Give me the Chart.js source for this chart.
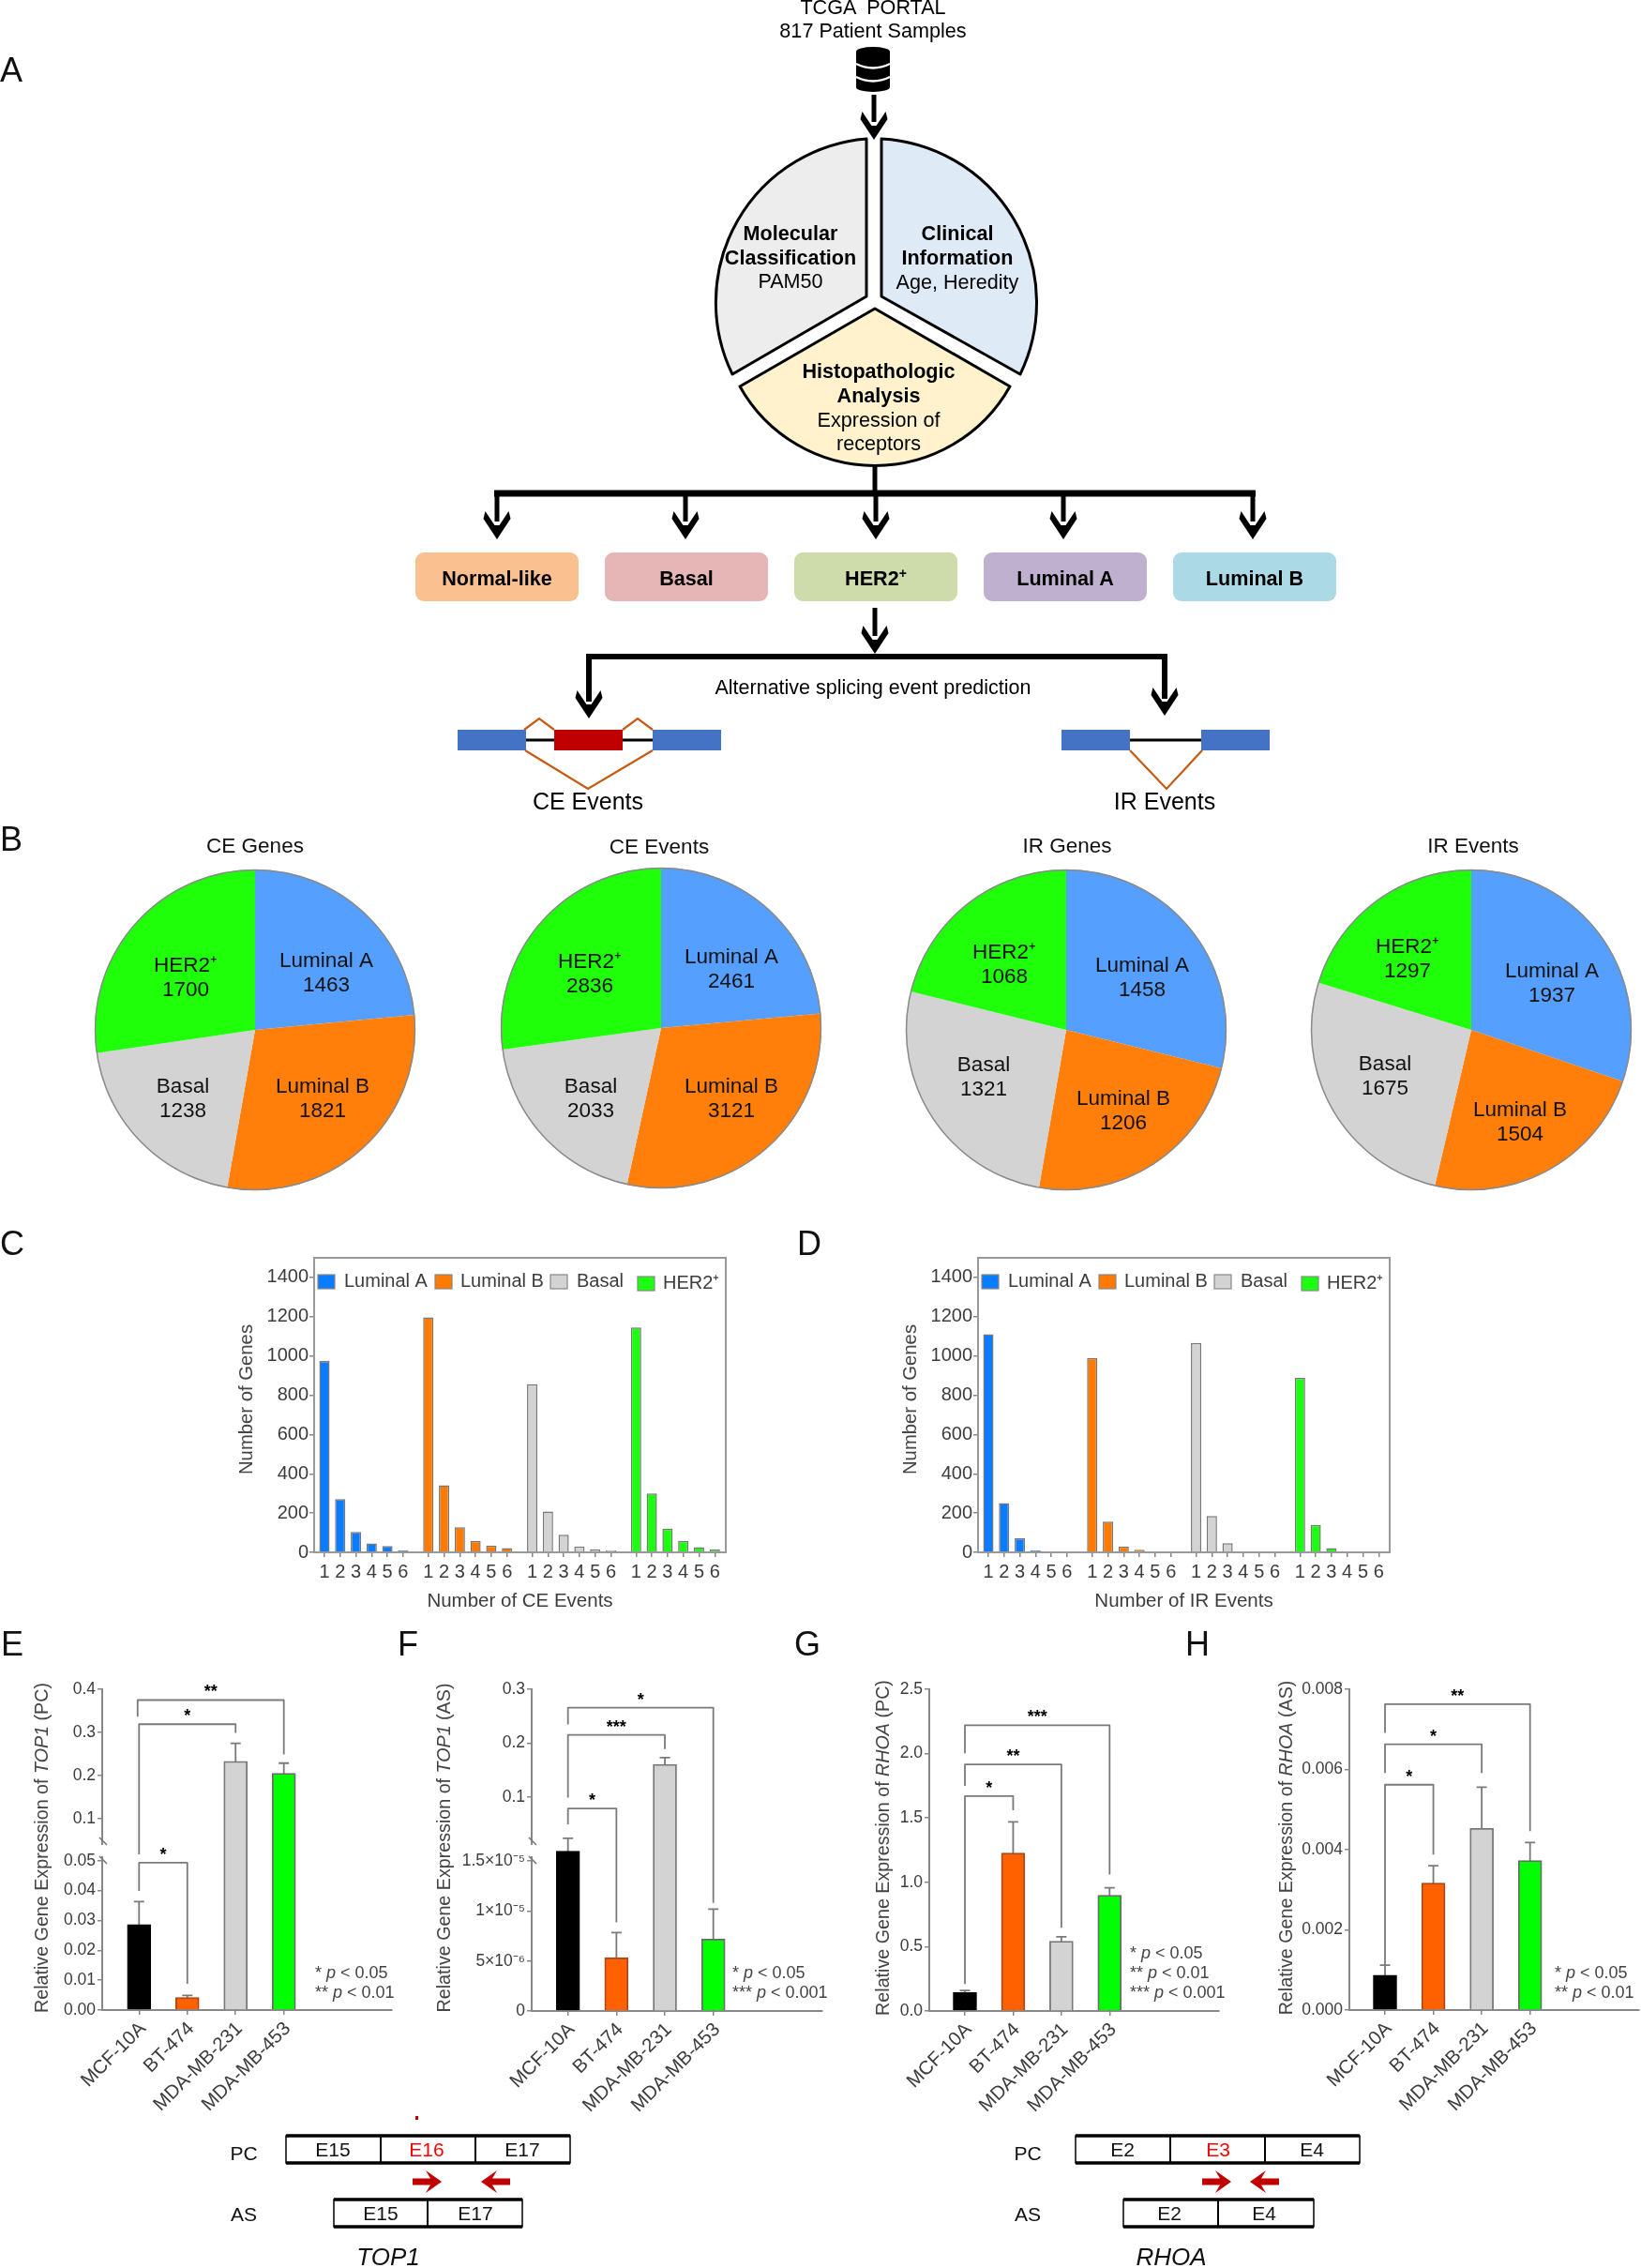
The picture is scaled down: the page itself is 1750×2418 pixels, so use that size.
<!DOCTYPE html>
<html>
<head>
<meta charset="utf-8">
<title>Alternative splicing figure</title>
<script src="https://cdn.jsdelivr.net/npm/chart.js@4/dist/chart.umd.js"></script>
<style>
  html, body { margin: 0; background: #fff; }
  #page { position: relative; width: 1750px; height: 2418px; overflow: hidden; }
  #page canvas { position: absolute; }
  #page svg { position: absolute; left: 0; top: 0; pointer-events: none; font-family: "Liberation Sans", Arial, sans-serif; }
  .letter { font-size: 36px; fill: #111; }
  .flow { font-size: 21.6px; fill: #000; text-anchor: middle; dominant-baseline: middle; transform: translateY(1.5px); }
  .flow.b { font-weight: bold; }
  .big { font-size: 25px; }
  .pie-title { font-size: 22.5px; fill: #111; text-anchor: middle; dominant-baseline: middle; transform: translateY(1.5px); }
  .ytitle { font-size: 19.7px; fill: #444; text-anchor: middle; }
  .ytitle.count { font-size: 20.3px; }
  .pval { font-size: 18px; fill: #444; dominant-baseline: middle; }
  .exon { font-size: 21px; fill: #111; text-anchor: middle; dominant-baseline: middle; }
  .exon.red { fill: #f00; }
  .gene { font-size: 26px; font-style: italic; fill: #111; text-anchor: middle; dominant-baseline: middle; }
</style>
</head>
<body>
<div id="page">
<svg width="1750" height="2418" viewBox="0 0 1750 2418">
  <defs>
    <path id="head" d="M0 0 L-14.5 -22 L-12.5 -30 L-2.5 -15 L2.5 -15 L12.5 -30 L14.5 -22 Z" fill="#000"/>
    <path id="primer" d="M31 0 L14 -12 L19 -3.5 L0 -3.5 L0 3.5 L19 3.5 L14 12 Z" fill="#c00000"/>
  </defs>

  <!-- panel letters -->
  <text class="letter" x="0" y="87">A</text>
  <text class="letter" x="0" y="907">B</text>
  <text class="letter" x="0" y="1338">C</text>
  <text class="letter" x="850" y="1338">D</text>
  <text class="letter" x="1" y="1765">E</text>
  <text class="letter" x="424" y="1765">F</text>
  <text class="letter" x="847" y="1765">G</text>
  <text class="letter" x="1264" y="1765">H</text>

  <!-- panel A: top of the flow -->
  <text class="flow" x="931" y="8" xml:space="preserve">TCGA  PORTAL</text>
  <text class="flow" x="931" y="33">817 Patient Samples</text>
  <rect x="913" y="55" width="36" height="38" fill="#000"/>
  <ellipse cx="931" cy="55" rx="18" ry="5" fill="#000"/>
  <ellipse cx="931" cy="93" rx="18" ry="5" fill="#000"/>
  <path d="M913 68 Q931 77 949 68 M913 82 Q931 91 949 82" stroke="#fff" stroke-width="2.5" fill="none"/>
  <path d="M932 101 V130" stroke="#000" stroke-width="5"/>
  <use href="#head" x="932" y="149"/>

  <g stroke="#000" stroke-width="3" stroke-linejoin="round">
    <path d="M924 148 L924 316 L781 399 A175 175 0 0 1 924 148 Z" fill="#ededed"/>
    <path d="M940 148 L940 316 L1088 399 A175 175 0 0 0 940 148 Z" fill="#deeaf6"/>
    <path d="M933 329 L1077 412 A165 165 0 0 1 789 412 Z" fill="#fff2cc"/>
  </g>
  <text class="flow b" x="843" y="249">Molecular</text>
  <text class="flow b" x="843" y="275">Classification</text>
  <text class="flow" x="843" y="300">PAM50</text>
  <text class="flow b" x="1021" y="249">Clinical</text>
  <text class="flow b" x="1021" y="275">Information</text>
  <text class="flow" x="1021" y="301">Age, Heredity</text>
  <text class="flow b" x="937" y="396">Histopathologic</text>
  <text class="flow b" x="937" y="422">Analysis</text>
  <text class="flow" x="937" y="448">Expression of</text>
  <text class="flow" x="937" y="473">receptors</text>

  <g stroke="#000" fill="none">
    <path d="M933 497 V526" stroke-width="5"/>
    <path d="M527 526 H1339" stroke-width="7"/>
    <path d="M530 526 V556 M731 526 V556 M934 526 V556 M1134 526 V556 M1336 526 V556" stroke-width="5"/>
    <path d="M933 648 V678" stroke-width="5"/>
    <path d="M628 748 V700 H1242 V745" stroke-width="6" stroke-linejoin="miter"/>
  </g>
  <use href="#head" x="530" y="575"/>
  <use href="#head" x="731" y="575"/>
  <use href="#head" x="934" y="575"/>
  <use href="#head" x="1134" y="575"/>
  <use href="#head" x="1336" y="575"/>
  <use href="#head" x="933" y="697"/>
  <use href="#head" x="628" y="766"/>
  <use href="#head" x="1242" y="763"/>

  <rect x="443" y="589" width="174" height="52" rx="9" fill="#fbc090"/>
  <rect x="645" y="589" width="174" height="52" rx="9" fill="#e6b5b5"/>
  <rect x="847" y="589" width="174" height="52" rx="9" fill="#cddcaa"/>
  <rect x="1049" y="589" width="174" height="52" rx="9" fill="#bfb0d0"/>
  <rect x="1251" y="589" width="174" height="52" rx="9" fill="#abd9e6"/>
  <text class="flow b" x="530" y="617">Normal-like</text>
  <text class="flow b" x="732" y="617">Basal</text>
  <text class="flow b" x="934" y="617">HER2<tspan font-size="14" dy="-7">+</tspan></text>
  <text class="flow b" x="1136" y="617">Luminal A</text>
  <text class="flow b" x="1338" y="617">Luminal B</text>

  <text class="flow" x="931" y="733" style="font-size:21.5px">Alternative splicing event prediction</text>

  <path d="M560 789 H696 M1204 789 H1282" stroke="#000" stroke-width="3"/>
  <rect x="488" y="778" width="73" height="22" fill="#4472c4"/>
  <rect x="591" y="778" width="73" height="22" fill="#c00000"/>
  <rect x="696" y="778" width="73" height="22" fill="#4472c4"/>
  <rect x="1132" y="778" width="73" height="22" fill="#4472c4"/>
  <rect x="1281" y="778" width="73" height="22" fill="#4472c4"/>
  <g stroke="#c55a11" stroke-width="2.2" fill="none">
    <path d="M559 778 L575 766 L591 778 M664 778 L680 766 L696 778"/>
    <path d="M560 800 L627 841 L696 800"/>
    <path d="M1205 800 L1244 841 L1282 800"/>
  </g>
  <text class="flow big" x="627" y="855">CE Events</text>
  <text class="flow big" x="1242" y="855">IR Events</text>

  <!-- panel B titles -->
  <text class="pie-title" x="272" y="902">CE Genes</text>
  <text class="pie-title" x="703" y="903">CE Events</text>
  <text class="pie-title" x="1138" y="902">IR Genes</text>
  <text class="pie-title" x="1571" y="902">IR Events</text>

  <!-- panels C-H axis titles and p values -->
  <text class="ytitle count" transform="translate(269 1492) rotate(-90)">Number of Genes</text>
  <text class="ytitle count" transform="translate(977 1492) rotate(-90)">Number of Genes</text>
  <text class="ytitle" transform="translate(51 1970) rotate(-90)">Relative Gene Expression of <tspan font-style="italic">TOP1</tspan> (PC)</text>
  <text class="ytitle" transform="translate(480 1970) rotate(-90)">Relative Gene Expression of <tspan font-style="italic">TOP1</tspan> (AS)</text>
  <text class="ytitle" transform="translate(948 1970) rotate(-90)">Relative Gene Expression of <tspan font-style="italic">RHOA</tspan> (PC)</text>
  <text class="ytitle" transform="translate(1378 1970) rotate(-90)">Relative Gene Expression of <tspan font-style="italic">RHOA</tspan> (AS)</text>

  <text class="pval" x="336" y="2104">* <tspan font-style="italic">p</tspan> &lt; 0.05</text>
  <text class="pval" x="336" y="2125">** <tspan font-style="italic">p</tspan> &lt; 0.01</text>
  <text class="pval" x="781" y="2104">* <tspan font-style="italic">p</tspan> &lt; 0.05</text>
  <text class="pval" x="781" y="2125">*** <tspan font-style="italic">p</tspan> &lt; 0.001</text>
  <text class="pval" x="1205" y="2083">* <tspan font-style="italic">p</tspan> &lt; 0.05</text>
  <text class="pval" x="1205" y="2104">** <tspan font-style="italic">p</tspan> &lt; 0.01</text>
  <text class="pval" x="1205" y="2125">*** <tspan font-style="italic">p</tspan> &lt; 0.001</text>
  <text class="pval" x="1658" y="2104">* <tspan font-style="italic">p</tspan> &lt; 0.05</text>
  <text class="pval" x="1658" y="2125">** <tspan font-style="italic">p</tspan> &lt; 0.01</text>

  <!-- exon maps -->
  <rect x="443" y="2256" width="3" height="4" fill="#c00000"/>
  <g fill="#fff" stroke="#000">
    <g stroke-width="1.5">
      <rect x="305" y="2277" width="303" height="29"/>
      <rect x="356" y="2345" width="201" height="29"/>
      <rect x="1147" y="2277" width="303" height="29"/>
      <rect x="1198" y="2345" width="203" height="29"/>
    </g>
    <path d="M305 2277 H608 M305 2306 H608 M356 2345 H557 M356 2374 H557 M1147 2277 H1450 M1147 2306 H1450 M1198 2345 H1401 M1198 2374 H1401" stroke-width="3.5" fill="none"/>
    <path d="M406 2277 V2306 M507 2277 V2306 M456 2345 V2374 M1248 2277 V2306 M1349 2277 V2306 M1299 2345 V2374" stroke-width="2" fill="none"/>
  </g>
  <text class="exon" x="355" y="2293">E15</text>
  <text class="exon red" x="455" y="2293">E16</text>
  <text class="exon" x="557" y="2293">E17</text>
  <text class="exon" x="406" y="2361">E15</text>
  <text class="exon" x="507" y="2361">E17</text>
  <text class="exon" x="1197" y="2293">E2</text>
  <text class="exon red" x="1299" y="2293">E3</text>
  <text class="exon" x="1399" y="2293">E4</text>
  <text class="exon" x="1247" y="2361">E2</text>
  <text class="exon" x="1348" y="2361">E4</text>
  <text class="exon" x="260" y="2297">PC</text>
  <text class="exon" x="260" y="2362">AS</text>
  <text class="exon" x="1096" y="2297">PC</text>
  <text class="exon" x="1096" y="2362">AS</text>
  <use href="#primer" x="440" y="2326"/>
  <use href="#primer" transform="translate(544 2326) scale(-1 1)"/>
  <use href="#primer" x="1282" y="2326"/>
  <use href="#primer" transform="translate(1364 2326) scale(-1 1)"/>
  <text class="gene" x="414" y="2408">TOP1</text>
  <text class="gene" x="1249" y="2408">RHOA</text>
</svg>
</div>

<script>
// Subtypes, same order everywhere
const subtypes = ['Luminal A', 'Luminal B', 'Basal', 'HER2\u207A'];
const subtypeColors = ['#0a7cff', '#ff7a00', '#d3d3d3', '#1cff10'];

// Panel B counts
const ceGenes = [1463, 1821, 1238, 1700];
const ceEvents = [2461, 3121, 2033, 2836];
const irGenes = [1458, 1206, 1321, 1068];
const irEvents = [1937, 1504, 1675, 1297];
const pieColors = ['#549fff', '#ff7f0a', '#d3d3d3', '#20ff0a'];

// Panel C, genes by number of CE events
const eventCounts = [1, 2, 3, 4, 5, 6];
const ceLuminalA = [975, 271, 104, 45, 32, 11];
const ceLuminalB = [1197, 342, 128, 59, 35, 22];
const ceBasal = [856, 208, 89, 30, 16, 11];
const ceHer2 = [1145, 300, 121, 59, 26, 14];

// Panel D, genes by number of IR events
const irLuminalA = [1111, 251, 72, 10, 4, 0];
const irLuminalB = [990, 156, 30, 13, 0, 0];
const irBasal = [1066, 185, 46, 5, 4, 0];
const irHer2 = [889, 140, 22, 4, 0, 0];
const countTicks = [0, 200, 400, 600, 800, 1000, 1200, 1400];

// Panels E-H, bars and top of the error bars
const cellLines = ['MCF-10A', 'BT-474', 'MDA-MB-231', 'MDA-MB-453'];
const top1Pc = [0.0286, 0.0042, 0.233, 0.2055];
const top1PcUpper = [0.0363, 0.0049, 0.2747, 0.2288];
const top1As = [1.6e-5, 5.33e-6, 0.1606, 7.2e-6];
const top1AsUpper = [1.727e-5, 7.84e-6, 0.1733, 1.019e-5];
const rhoaPc = [0.1436, 1.227, 0.543, 0.9];
const rhoaPcUpper = [0.16, 1.47, 0.577, 0.957];
const rhoaAs = [0.000867, 0.00317, 0.00453, 0.00373];
const rhoaAsUpper = [0.00112, 0.0036, 0.00556, 0.00418];

const top1PcTicks = [0, 0.01, 0.02, 0.03, 0.04, 0.05, 0.1, 0.2, 0.3, 0.4];
const top1PcLabels = ['0.00', '0.01', '0.02', '0.03', '0.04', '0.05', '0.1', '0.2', '0.3', '0.4'];
const top1AsTicks = [0, 5e-6, 1e-5, 1.5e-5, 0.1, 0.2, 0.3];
const top1AsLabels = ['0', '5\u00D710\u207B\u2076', '1\u00D710\u207B\u2075', '1.5\u00D710\u207B\u2075', '0.1', '0.2', '0.3'];
const rhoaPcTicks = [0, 0.5, 1, 1.5, 2, 2.5];
const rhoaPcLabels = ['0.0', '0.5', '1.0', '1.5', '2.0', '2.5'];
const rhoaAsTicks = [0, 0.002, 0.004, 0.006, 0.008];
const rhoaAsLabels = ['0.000', '0.002', '0.004', '0.006', '0.008'];

const barFills = ['#000000', '#ff6000', '#d3d3d3', '#00ff00'];
const barEdges = ['#000000', '#a8481c', '#777777', '#6a6a6a'];
const axisGrey = '#888';
const textGrey = '#3c3c3c';

Chart.defaults.font.family = '"Liberation Sans", Arial, sans-serif';
Chart.defaults.animation = false;
Chart.defaults.responsive = false;
Chart.defaults.plugins.legend.display = false;
Chart.defaults.plugins.tooltip.enabled = false;

const page = document.getElementById('page');

function makeCanvas(left, top, right, bottom) {
    const canvas = document.createElement('canvas');
    canvas.width = right - left;
    canvas.height = bottom - top;
    canvas.style.left = left + 'px';
    canvas.style.top = top + 'px';
    page.insertBefore(canvas, page.firstChild);
    return canvas;
}

// Linear axis with a squeezed stretch, for the broken axes of E and F
class BrokenLinearScale extends Chart.LinearScale {
    static id = 'brokenLinear';
    static defaults = {};
    getPixelForValue(value) {
        if (value === null || value === undefined) return NaN;
        const knots = this.options.knots;
        let i = 1;
        while (i < knots.length - 1 && value > knots[i][0]) i++;
        const [v0, f0] = knots[i - 1];
        const [v1, f1] = knots[i];
        return this.getPixelForDecimal(f0 + (value - v0) / (v1 - v0) * (f1 - f0));
    }
}
Chart.register(BrokenLinearScale);

// ---- pies ----
const sliceLabels = offsets => ({
    id: 'sliceLabels',
    afterDatasetsDraw(chart) {
        const { ctx } = chart;
        const arc = chart.getDatasetMeta(0).data[0];
        ctx.save();
        ctx.beginPath();
        ctx.arc(arc.x, arc.y, arc.outerRadius - 0.5, 0, Math.PI * 2);
        ctx.strokeStyle = '#8a8a8a';
        ctx.lineWidth = 1.5;
        ctx.stroke();
        ctx.font = '22.5px "Liberation Sans"';
        ctx.fillStyle = '#111';
        ctx.textAlign = 'center';
        ctx.textBaseline = 'middle';
        chart.data.labels.forEach((name, i) => {
            const x = arc.x + offsets[i][0];
            const y = arc.y + offsets[i][1] + 1.5;
            ctx.fillText(name, x, y - 13);
            ctx.fillText(chart.data.datasets[0].data[i], x, y + 13);
        });
        ctx.restore();
    }
});

function drawPie(cx, cy, values, offsets) {
    const R = 171;
    new Chart(makeCanvas(cx - R - 2, cy - R - 2, cx + R + 2, cy + R + 2), {
        type: 'pie',
        data: {
            labels: subtypes,
            datasets: [{ data: values, backgroundColor: pieColors, borderWidth: 0, hoverOffset: 0 }]
        },
        options: { radius: R, layout: { padding: 0 } },
        plugins: [sliceLabels(offsets)]
    });
}

drawPie(272, 1098, ceGenes, [[76, -62], [72, 72], [-77, 72], [-74, -57]]);
drawPie(705, 1096, ceEvents, [[75, -64], [75, 74], [-75, 74], [-76, -59]]);
drawPie(1137, 1098, irGenes, [[81, -57], [61, 85], [-88, 49], [-66, -71]]);
drawPie(1569, 1098, irEvents, [[86, -51], [52, 97], [-92, 48], [-68, -77]]);

// ---- C and D ----
const swatchX = [4, 129, 252, 345];
const legendTextX = [32, 156, 280, 372];

const boxAndLegend = {
    id: 'boxAndLegend',
    afterDatasetsDraw(chart) {
        const { ctx, chartArea: a } = chart;
        ctx.save();
        ctx.strokeStyle = '#999';
        ctx.lineWidth = 2;
        ctx.strokeRect(a.left, a.top, a.right - a.left, a.bottom - a.top);
        ctx.font = '20px "Liberation Sans"';
        ctx.textBaseline = 'middle';
        chart.data.datasets.forEach((ds, i) => {
            const shift = i === 3 ? 2 : 0;
            ctx.fillStyle = ds.backgroundColor;
            ctx.fillRect(a.left + swatchX[i], a.top + 18 + shift, 18, 15);
            ctx.strokeStyle = '#888';
            ctx.lineWidth = 1.2;
            ctx.strokeRect(a.left + swatchX[i], a.top + 18 + shift, 18, 15);
            ctx.fillStyle = textGrey;
            ctx.fillText(ds.label, a.left + legendTextX[i], a.top + 25.5 + shift);
        });
        ctx.restore();
    }
};

function drawCounts(left, series, xTitle) {
    const canvasLeft = left - 85;
    const areaRight = left + 439;
    const groupStep = 6.6;
    const xTicks = [];
    subtypes.forEach((_, g) => eventCounts.forEach(n => xTicks.push(n + g * groupStep)));

    new Chart(makeCanvas(canvasLeft, 1327, areaRight + 6, 1720), {
        type: 'bar',
        data: {
            datasets: series.map((values, g) => ({
                label: subtypes[g],
                data: values.map((y, i) => ({ x: eventCounts[i] + g * groupStep, y })),
                backgroundColor: subtypeColors[g],
                borderColor: '#777',
                borderWidth: 1.5,
                grouped: false,
                maxBarThickness: 11
            }))
        },
        options: {
            layout: { autoPadding: false, padding: { top: 14, right: 6, left: 0, bottom: 0 } },
            scales: {
                x: {
                    type: 'linear',
                    offset: false,
                    min: 0.345,
                    max: 26.5,
                    afterFit: s => { s.height = 65; },
                    afterBuildTicks: s => { s.ticks = xTicks.map(value => ({ value })); },
                    grid: { offset: false, drawOnChartArea: false, color: axisGrey, tickLength: 5, lineWidth: 1.5 },
                    border: { display: false },
                    ticks: {
                        autoSkip: false, maxRotation: 0, padding: 4, color: textGrey, font: { size: 20 },
                        callback: (v, i) => eventCounts[i % eventCounts.length]
                    },
                    title: { display: true, text: xTitle, color: textGrey, font: { size: 20.5 }, padding: 0 }
                },
                y: {
                    min: 0,
                    max: 1500,
                    afterFit: s => { s.width = 85; },
                    afterBuildTicks: s => { s.ticks = countTicks.map(value => ({ value })); },
                    grid: { drawOnChartArea: false, color: axisGrey, tickLength: 5, lineWidth: 1.5 },
                    border: { display: false },
                    ticks: { autoSkip: false, padding: 1, color: textGrey, font: { size: 20 }, callback: v => String(v) }
                }
            }
        },
        plugins: [boxAndLegend]
    });
}

drawCounts(335, [ceLuminalA, ceLuminalB, ceBasal, ceHer2], 'Number of CE Events');
drawCounts(1043, [irLuminalA, irLuminalB, irBasal, irHer2], 'Number of IR Events');

// ---- E to H ----
const errorBars = upper => ({
    id: 'errorBars',
    beforeDatasetsDraw(chart) {
        const { ctx, scales: { x, y } } = chart;
        ctx.save();
        ctx.strokeStyle = '#7a7a7a';
        ctx.lineWidth = 1.8;
        upper.forEach((value, i) => {
            const px = x.getPixelForValue(i + 1);
            const top = y.getPixelForValue(value);
            ctx.beginPath();
            ctx.moveTo(px, y.getPixelForValue(0));
            ctx.lineTo(px, top);
            ctx.moveTo(px - 5.5, top);
            ctx.lineTo(px + 5.5, top);
            ctx.stroke();
        });
        ctx.restore();
    }
});

const brackets = list => ({
    id: 'brackets',
    afterDatasetsDraw(chart) {
        const { ctx, scales: { x, y } } = chart;
        ctx.save();
        ctx.lineJoin = 'round';
        list.forEach(b => {
            const x0 = x.getPixelForValue(b.from);
            const x1 = x.getPixelForValue(b.to);
            const top = y.getPixelForValue(b.top);
            ctx.strokeStyle = '#7a7a7a';
            ctx.lineWidth = 1.8;
            ctx.beginPath();
            ctx.moveTo(x0, y.getPixelForValue(b.left));
            ctx.lineTo(x0, top);
            ctx.lineTo(x1, top);
            ctx.lineTo(x1, y.getPixelForValue(b.right));
            ctx.stroke();
            ctx.fillStyle = '#000';
            ctx.font = 'bold 18px "Liberation Sans"';
            ctx.textAlign = 'center';
            ctx.textBaseline = 'alphabetic';
            ctx.fillText(b.stars, (x0 + x1) / 2, top - 3);
        });
        ctx.restore();
    }
});

const axisBreak = (low, high) => ({
    id: 'axisBreak',
    afterDraw(chart) {
        const { ctx, scales: { y } } = chart;
        const ax = chart.chartArea.left;
        const yLow = y.getPixelForValue(low);
        const yHigh = y.getPixelForValue(high);
        ctx.save();
        ctx.fillStyle = '#fff';
        ctx.fillRect(ax - 2, yHigh, 4, yLow - yHigh);
        ctx.strokeStyle = '#777';
        ctx.lineWidth = 1.6;
        ctx.beginPath();
        ctx.moveTo(ax - 3, yHigh - 8);
        ctx.lineTo(ax + 5, yHigh);
        ctx.moveTo(ax - 3, yLow);
        ctx.lineTo(ax + 5, yLow + 8);
        ctx.stroke();
        ctx.restore();
    }
});

function drawExpression(p) {
    const step = (p.lastBar - p.firstBar) / 3;
    const canvasLeft = Math.round(p.left - 85);
    const canvasRight = Math.min(Math.round(p.right + 2), 1750);
    const extras = [errorBars(p.upper), brackets(p.brackets)];
    if (p.gap) extras.push(axisBreak(p.gap[0], p.gap[1]));

    new Chart(makeCanvas(canvasLeft, p.top - 15, canvasRight, p.bottom + 125), {
        type: 'bar',
        data: {
            datasets: [{
                data: p.values.map((y, i) => ({ x: i + 1, y })),
                backgroundColor: barFills,
                borderColor: barEdges,
                borderWidth: 1.8,
                barThickness: 25
            }]
        },
        options: {
            layout: {
                autoPadding: false,
                padding: { top: 15, right: canvasRight - p.right, left: p.left - 85 - canvasLeft, bottom: 0 }
            },
            scales: {
                x: {
                    type: 'linear',
                    offset: false,
                    min: 1 - (p.firstBar - p.left) / step,
                    max: 4 + (p.right - p.lastBar) / step,
                    afterFit: s => { s.height = 125; },
                    afterBuildTicks: s => { s.ticks = cellLines.map((_, i) => ({ value: i + 1 })); },
                    grid: { offset: false, drawOnChartArea: false, color: axisGrey, tickLength: 5, lineWidth: 1.5 },
                    border: { color: axisGrey, width: 2 },
                    ticks: {
                        autoSkip: false, minRotation: 45, maxRotation: 45, padding: 3, labelOffset: 4,
                        color: textGrey, font: { size: 20.5 },
                        callback: (v, i) => cellLines[i]
                    }
                },
                y: {
                    type: 'brokenLinear',
                    knots: p.knots,
                    min: 0,
                    max: p.knots[p.knots.length - 1][0],
                    afterFit: s => { s.width = 85; },
                    afterBuildTicks: s => { s.ticks = p.ticks.map(value => ({ value })); },
                    grid: { drawOnChartArea: false, color: axisGrey, tickLength: 5, lineWidth: 1.5 },
                    border: { color: axisGrey, width: 2 },
                    ticks: {
                        autoSkip: false, padding: 2, color: textGrey, font: { size: 17.5 },
                        callback: (v, i) => p.labels[i]
                    }
                }
            }
        },
        plugins: extras
    });
}

drawExpression({
    left: 109, right: 418, top: 1801, bottom: 2143, firstBar: 148.3, lastBar: 302.7,
    values: top1Pc, upper: top1PcUpper, ticks: top1PcTicks, labels: top1PcLabels,
    knots: [[0, 0], [0.05, 0.4658], [0.1, 0.5965], [0.4, 1]],
    gap: [0.0553, 0.0687],
    brackets: [
        { from: 1, to: 2, top: 0.0493, left: 0.0399, right: 0.0088, stars: '*' },
        { from: 1, to: 3, top: 0.319, left: 0.0575, right: 0.2987, stars: '*' },
        { from: 0.97, to: 4, top: 0.375, left: 0.3365, right: 0.249, stars: '**' }
    ]
});

drawExpression({
    left: 567, right: 877, top: 1801, bottom: 2144, firstBar: 605.7, lastBar: 760.7,
    values: top1As, upper: top1AsUpper, ticks: top1AsTicks, labels: top1AsLabels,
    knots: [[0, 0], [2e-5, 0.6215], [0.1, 0.665], [0.3, 1]],
    gap: [1.548e-5, 1.661e-5],
    brackets: [
        { from: 1, to: 2, top: 0.0175, left: 1.867e-5, right: 8.87e-6, stars: '*' },
        { from: 1, to: 3, top: 0.2152, left: 0.0953, right: 0.189, stars: '***' },
        { from: 1, to: 4, top: 0.2658, left: 0.2349, right: 1.081e-5, stars: '*' }
    ]
});

drawExpression({
    left: 991, right: 1300, top: 1801, bottom: 2144, firstBar: 1029, lastBar: 1183.3,
    values: rhoaPc, upper: rhoaPcUpper, ticks: rhoaPcTicks, labels: rhoaPcLabels,
    knots: [[0, 0], [2.5, 1]],
    brackets: [
        { from: 1, to: 2, top: 1.67, left: 0.209, right: 1.56, stars: '*' },
        { from: 1, to: 3, top: 1.916, left: 1.75, right: 0.6475, stars: '**' },
        { from: 1, to: 4, top: 2.22, left: 2.003, right: 1.061, stars: '***' }
    ]
});

drawExpression({
    left: 1439, right: 1748, top: 1801, bottom: 2143, firstBar: 1477, lastBar: 1631.7,
    values: rhoaAs, upper: rhoaAsUpper, ticks: rhoaAsTicks, labels: rhoaAsLabels,
    knots: [[0, 0], [0.008, 1]],
    brackets: [
        { from: 1, to: 2, top: 0.00562, left: 0.00109, right: 0.00388, stars: '*' },
        { from: 1, to: 3, top: 0.00663, left: 0.00591, right: 0.00591, stars: '*' },
        { from: 1, to: 4, top: 0.00763, left: 0.00691, right: 0.00446, stars: '**' }
    ]
});
</script>
</body>
</html>
